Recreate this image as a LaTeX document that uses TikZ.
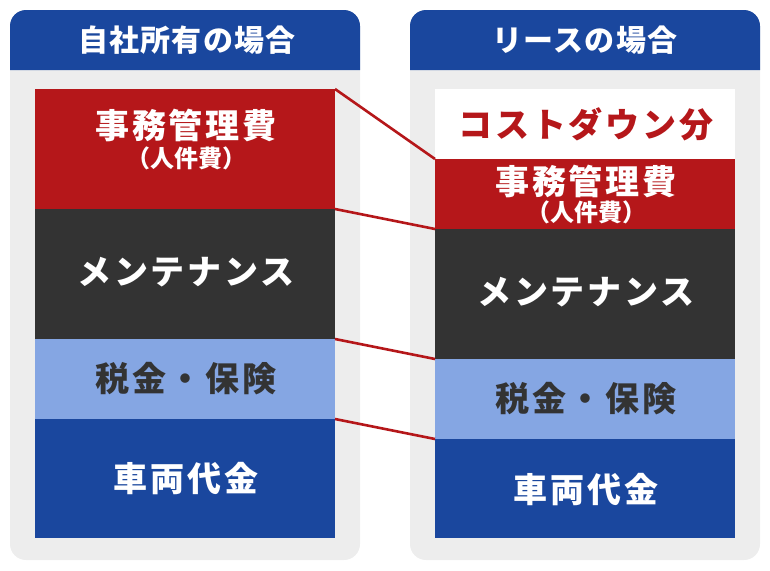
\documentclass[tikz,border=0pt]{standalone}
\usepackage{fontspec}
\setmainfont{Noto Sans CJK JP}
\newfontfamily\jphead{Noto Sans CJK JP}[LetterSpace=4]
\newfontfamily\jpbig{Noto Sans CJK JP}[LetterSpace=8]
\newfontfamily\jpsmall{Noto Sans CJK JP}
\definecolor{hblue}{HTML}{1A479E}
\definecolor{cred}{HTML}{B5171A}
\definecolor{cdark}{HTML}{333333}
\definecolor{clight}{HTML}{85A6E3}
\definecolor{cgray}{HTML}{EDEDED}
\tikzset{
  stackbox/.style={minimum width=300pt,inner sep=0pt,outer sep=0pt,draw=none},
  bigtxt/.style={font=\jpbig\bfseries\fontsize{34pt}{34pt}\selectfont,inner sep=0pt},
  smalltxt/.style={font=\jpsmall\bfseries\fontsize{24pt}{24pt}\selectfont,inner sep=0pt},
  headtxt/.style={font=\jphead\bfseries\fontsize{30pt}{30pt}\selectfont,inner sep=0pt,text=white},
  link/.style={draw=cred,line width=2.6pt}
}
\begin{document}
\begin{tikzpicture}[x=1pt,y=-1pt]
\useasboundingbox (0,0) rectangle (770,570);
% panels
\fill[cgray,rounded corners=16pt] (10,10) rectangle (360,560);
\fill[cgray,rounded corners=16pt] (410,10) rectangle (760,560);
\fill[hblue] (10,70) [rounded corners=16pt]-- (10,10) -- (360,10) [sharp corners]-- (360,70) -- cycle;
\fill[hblue] (410,70) [rounded corners=16pt]-- (410,10) -- (760,10) [sharp corners]-- (760,70) -- cycle;
\node[headtxt] (hL) at (187,40) {自社所有の場合};
\node[headtxt] (hR) at (585,40) {リースの場合};
% left stack
\node[stackbox,fill=cred,minimum height=120pt]  (L1) at (185,149) {};
\node[stackbox,fill=cdark,minimum height=130pt] (L2) at (185,274) {};
\node[stackbox,fill=clight,minimum height=80pt] (L3) at (185,379) {};
\node[stackbox,fill=hblue,minimum height=119pt] (L4) at (185,478.5) {};
% right stack
\node[stackbox,fill=white,minimum height=70pt]  (R0) at (585,124) {};
\node[stackbox,fill=cred,minimum height=70pt]   (R1) at (585,194) {};
\node[stackbox,fill=cdark,minimum height=130pt] (R2) at (585,294) {};
\node[stackbox,fill=clight,minimum height=80pt] (R3) at (585,399) {};
\node[stackbox,fill=hblue,minimum height=99pt]  (R4) at (585,488.5) {};
% left texts
\node[bigtxt,text=white] (tL1) at (186,125) {事務管理費};
\node[smalltxt,text=white] (sL1) at (186,158) {（人件費）};
\node[bigtxt,text=white] (tL2) at (186,272) {メンテナンス};
\node[bigtxt,text=cdark] (tL3) at (186,379) {税金・保険};
\node[bigtxt,text=white] (tL4) at (186,479) {車両代金};
% right texts
\node[bigtxt,text=cred] (tR0) at (586,124) {コストダウン分};
\node[bigtxt,text=white] (tR1) at (586,181) {事務管理費};
\node[smalltxt,text=white] (sR1) at (586,212) {（人件費）};
\node[bigtxt,text=white] (tR2) at (586,292.5) {メンテナンス};
\node[bigtxt,text=cdark] (tR3) at (586,399) {税金・保険};
\node[bigtxt,text=white] (tR4) at (586,490) {車両代金};
% connectors
\draw[link] (L1.north east) -- (R1.north west);
\draw[link] (L2.north east) -- (R2.north west);
\draw[link] (L3.north east) -- (R3.north west);
\draw[link] (L4.north east) -- (R4.north west);
\end{tikzpicture}
\end{document}
